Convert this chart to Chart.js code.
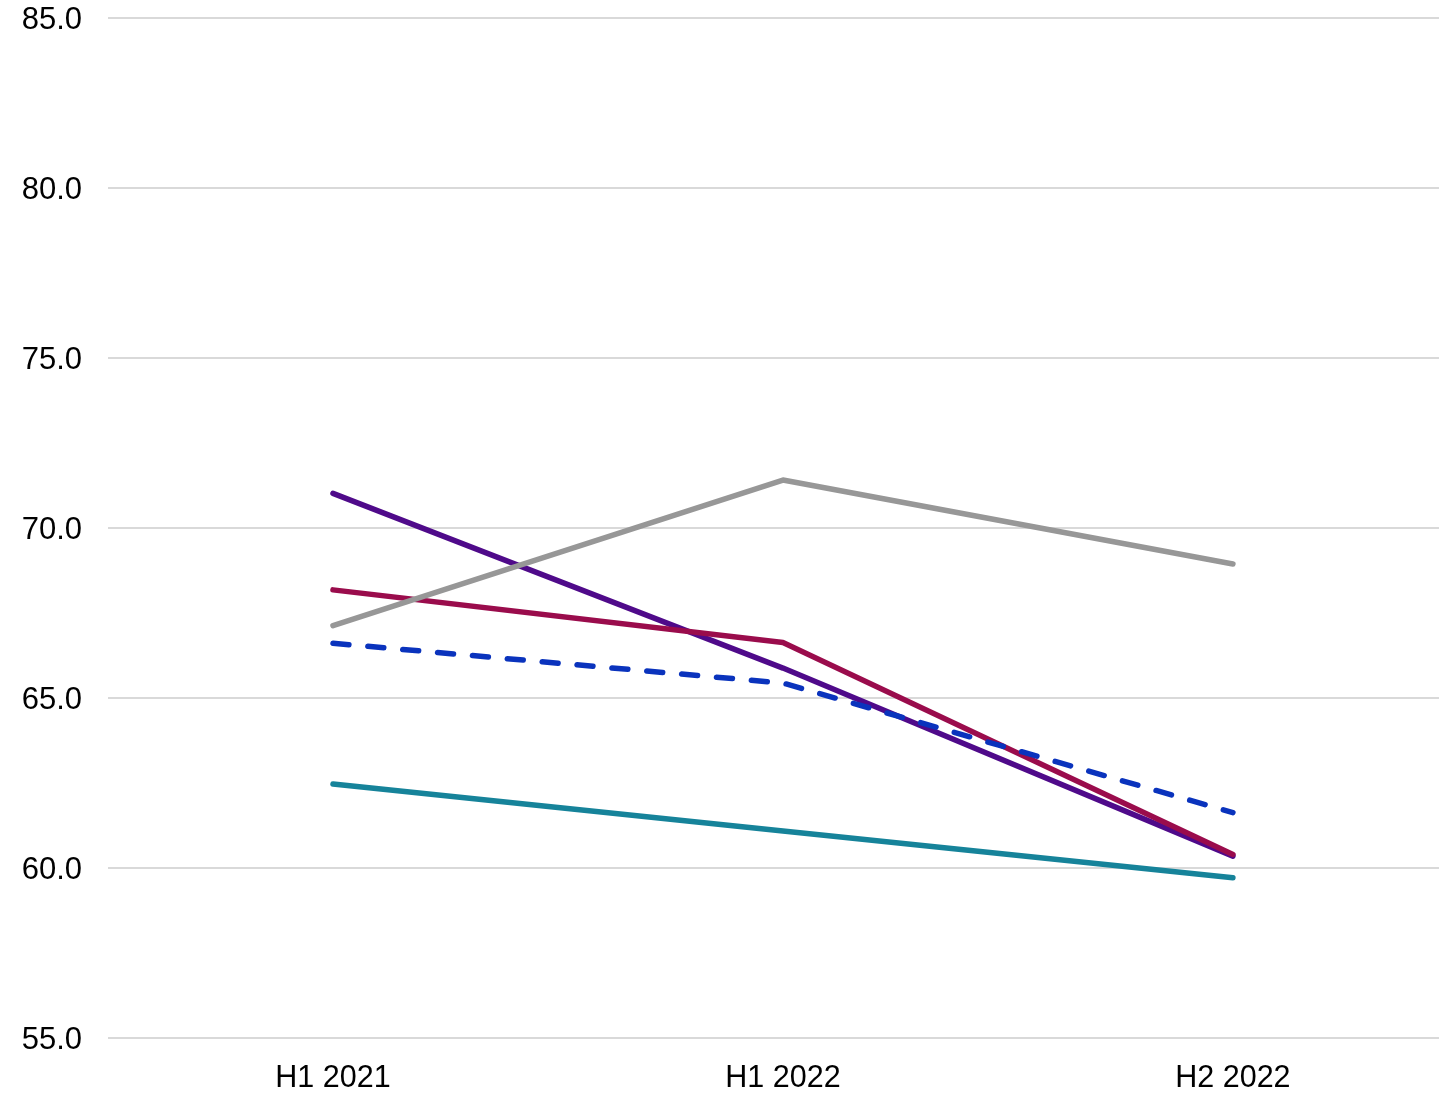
<!DOCTYPE html>
<html>
<head>
<meta charset="utf-8">
<script src="https://cdn.jsdelivr.net/npm/chart.js@4"></script>
<style>
  html, body { margin: 0; padding: 0; background: #fff; overflow: hidden; }
  canvas { display: block; }
</style>
</head>
<body>
<canvas id="chart" width="1439" height="1093"></canvas>
<script>
const periods = ['H1 2021', 'H1 2022', 'H2 2022'];

const dashedSeries = [66.61, 65.44, 61.63];
const greySeries = [67.13, 71.41, 68.94];
const crimsonSeries = [68.18, 66.63, 60.40];
const purpleSeries = [71.02, 65.88, 60.35];
const tealSeries = [62.47, 61.09, 59.71];

const yTicks = [55, 60, 65, 70, 75, 80, 85];

// periods sit on a numeric axis (0, 1, 2) so the right edge can be cut short
function lineSet(label, values, color, dash)
{
    return {
        label: label,
        data: values.map((v, i) => ({ x: i, y: v })),
        borderColor: color,
        backgroundColor: color,
        borderWidth: 5.5,
        borderDash: dash || [],
        borderCapStyle: 'round',
        borderJoinStyle: 'round',
        pointRadius: 0,
        pointHoverRadius: 0,
        pointHitRadius: 0,
        tension: 0,
        fill: false
    };
}

const ctx = document.getElementById('chart');

new Chart(ctx, {
    type: 'line',
    data: {
        datasets: [
            lineSet('Average', dashedSeries, '#0a33bd', [16, 19]),
            lineSet('Group B', greySeries, '#979797'),
            lineSet('Group C', crimsonSeries, '#9a0c4c'),
            lineSet('Group D', purpleSeries, '#4f0a8a'),
            lineSet('Group E', tealSeries, '#16839a')
        ]
    },
    options: {
        responsive: false,
        animation: false,
        devicePixelRatio: 1,
        layout: {
            autoPadding: false,
            padding: { left: 20, right: 0, top: 0, bottom: 0 }
        },
        plugins: {
            legend: { display: false },
            tooltip: { enabled: false }
        },
        scales: {
            x: {
                type: 'linear',
                min: -0.5,
                max: 2.458,
                afterBuildTicks: axis => {
                    axis.ticks = periods.map((p, i) => ({ value: i }));
                },
                afterFit: axis => {
                    axis.height = 55;
                    axis.paddingLeft = 0;
                    axis.paddingRight = 0;
                },
                grid: { display: false, drawTicks: false },
                border: { display: false },
                ticks: {
                    color: '#000',
                    padding: 22,
                    maxRotation: 0,
                    callback: v => periods[v],
                    font: { family: 'Liberation Sans, Arial, sans-serif', size: 30.5 }
                }
            },
            y: {
                min: 55,
                max: 85,
                afterBuildTicks: axis => {
                    axis.ticks = yTicks.map(v => ({ value: v }));
                },
                afterFit: axis => {
                    axis.width = 88;
                    axis.paddingTop = 18;
                    axis.paddingBottom = 0;
                },
                grid: { color: '#d9d9d9', lineWidth: 2, drawTicks: false },
                border: { display: false },
                ticks: {
                    color: '#000',
                    padding: 26,
                    labelOffset: 2,
                    callback: v => Number(v).toFixed(1),
                    font: { family: 'Liberation Sans, Arial, sans-serif', size: 31 }
                }
            }
        }
    }
});
</script>
</body>
</html>
